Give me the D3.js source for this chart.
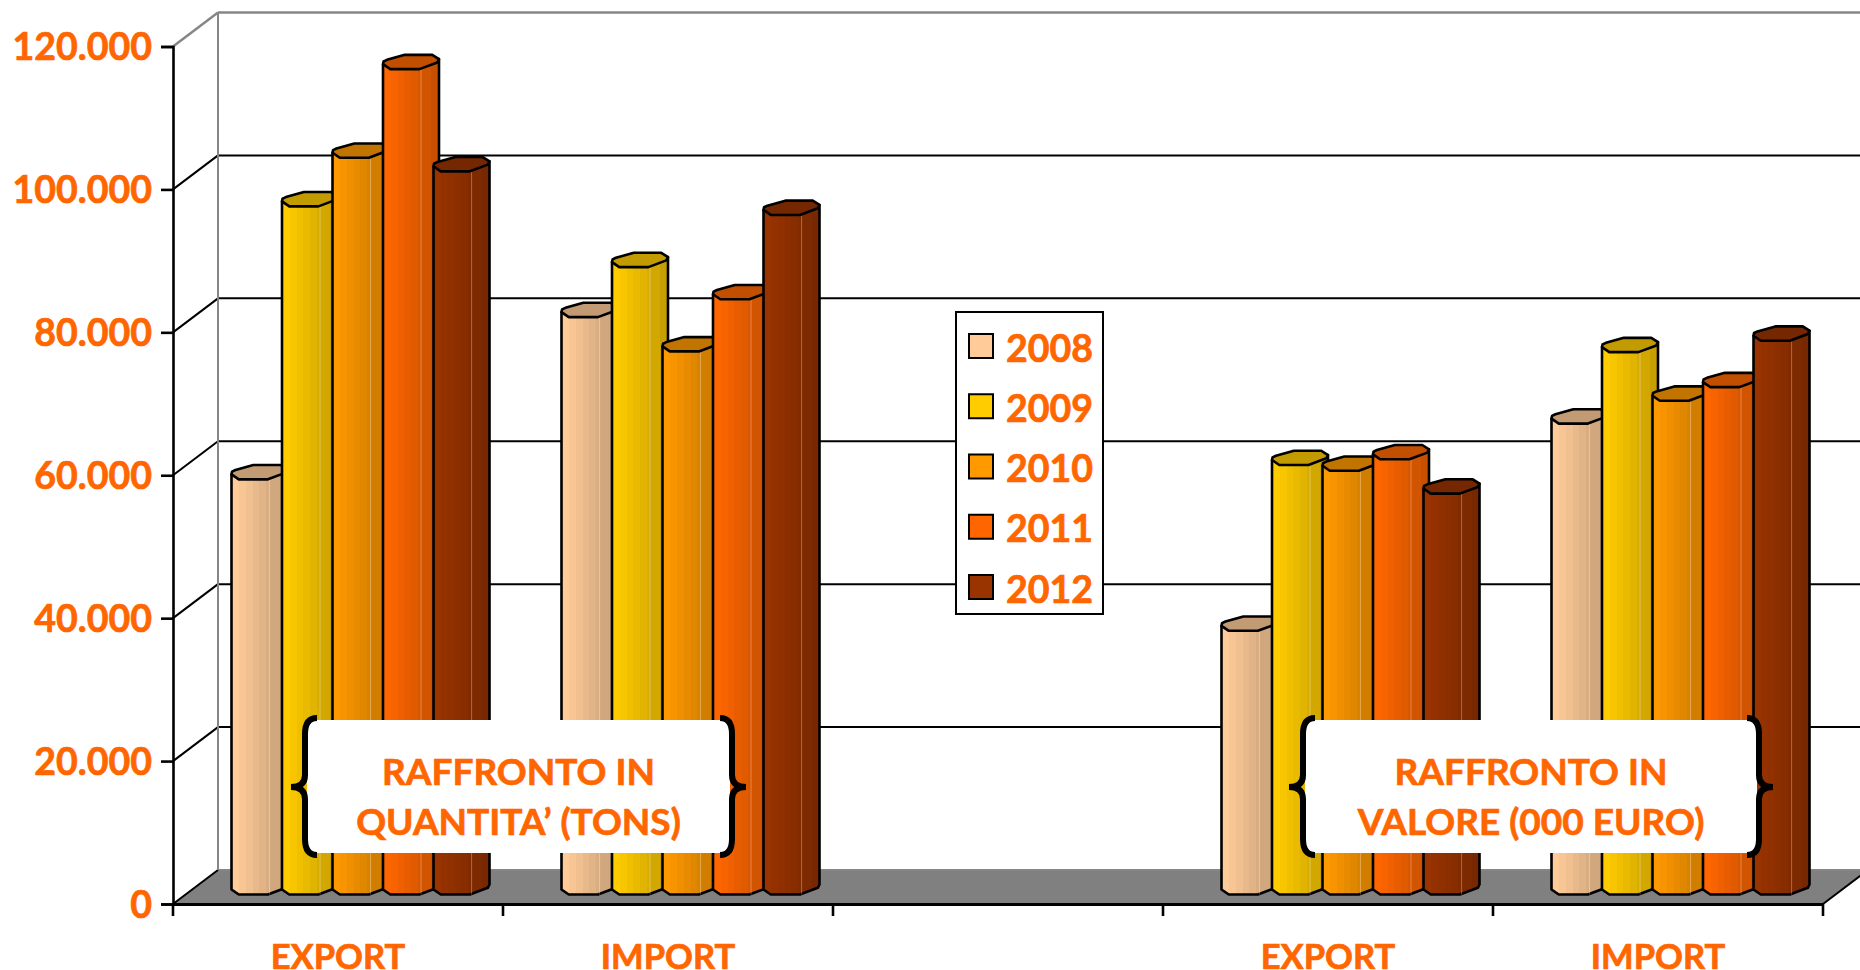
<!DOCTYPE html>
<html><head><meta charset="utf-8">
<script src="https://cdn.jsdelivr.net/npm/d3@7"></script>
<style>html,body{margin:0;padding:0;background:#fff;overflow:hidden}svg{display:block}text{font-family:Lato,"Open Sans",sans-serif;font-weight:700;fill:#FF6600;stroke:#FF6600;stroke-width:.7px}</style>
</head><body><svg id="c" width="1860" height="970"></svg>
<script>
const categories = [0,1,2,3,4];
const categoryLabels = ["EXPORT","IMPORT","","EXPORT","IMPORT"];
const years = ["2008","2009","2010","2011","2012"];
const colors = ["#FFCC99","#FFCC00","#FF9900","#FF6600","#993300"];
const values2008 = [58100,80800,null,36900,65900];
const values2009 = [96300,87800,null,60100,75900];
const values2010 = [103100,76000,null,59300,69100];
const values2011 = [115500,83300,null,60900,71000];
const values2012 = [101200,95100,null,56100,77500];
const seriesValues = [values2008,values2009,values2010,values2011,values2012];
const yTicks = [0,20000,40000,60000,80000,100000,120000];
const tickFormat = d => d===0 ? "0" : d3.format(",")(d).replace(/,/g,".");

const svg = d3.select("#c");
const dx = 45, dy = -34;                 // depth of the 3-D box
const x = d3.scaleBand().domain(categories).range([173,1823]);
const y = d3.scaleLinear().domain([0,120000]).range([904,46.5]);
const x1 = d3.scaleBand().domain(years).range([58.5,58.5+5*50.5]);
const barW = 56, lift = 9.5;

// gradients
const defs = svg.append("defs");
const bandFr = [0,.14,.26,.38,.5,.62,.68,.86,1];
const bandF  = [1,.97,.94,.91,.88,.85,.82,.78];
years.forEach((yr,i)=>{
  const g = defs.append("linearGradient").attr("id","g"+yr);
  bandF.forEach((f,k)=>{
    const c = d3.rgb(colors[i]);
    const col = d3.rgb(c.r*f,c.g*f,c.b*f).formatHex();
    g.append("stop").attr("offset",bandFr[k]).attr("stop-color",col);
    g.append("stop").attr("offset",bandFr[k+1]).attr("stop-color",col);
  });
});

// floor
const fp = [[173,y(0)],[173+dx,y(0)+dy],[1823+dx,y(0)+dy],[1823,y(0)]];
svg.append("polygon").attr("points",fp.join(" ")).attr("fill","#808080");
// walls and gridlines
const grid = svg.append("g");
yTicks.forEach(t=>{
  const yy = y(t), isTop = t===120000, bot = t===0;
  const col = isTop ? "#868686" : "#000";
  grid.append("line").attr("x1",173+dx).attr("x2",1870).attr("y1",yy+dy).attr("y2",yy+dy)
    .attr("stroke",bot?"#868686":col).attr("stroke-width",isTop?2.5:2);
  grid.append("line").attr("x1",173).attr("x2",173+dx).attr("y1",yy).attr("y2",yy+dy)
    .attr("stroke",col).attr("stroke-width",isTop?2.5:2);
});
grid.append("line").attr("x1",173+dx).attr("x2",173+dx).attr("y1",y(120000)+dy).attr("y2",y(0)+dy)
  .attr("stroke","#868686").attr("stroke-width",2);
grid.append("line").attr("x1",1823).attr("x2",1823+dx).attr("y1",y(0)).attr("y2",y(0)+dy)
  .attr("stroke","#000").attr("stroke-width",2);

// bars
const capShape = [[0,-5],[.13,0],[.65,0],[.97,-6.7],[1,-10],[.88,-14.3],[.39,-14.3],[.07,-9.3],[.01,-7.7]];
const baseShape = [[1,-10],[.97,-6.7],[.65,0],[.13,0],[0,-5]];
const barsG = svg.append("g");
categories.forEach((c,ci)=>{
  years.forEach((yr,si)=>{
    const v = seriesValues[si][ci];
    if(v==null) return;
    const x0 = x(c)+x1(yr), yt = y(v)-lift, yb = y(0)-lift;
    const g = barsG.append("g");
    const body = [[x0,yt-5],[x0+barW,yt-10]]
      .concat(baseShape.map(p=>[x0+p[0]*barW,yb+p[1]]));
    g.append("polygon").attr("points",body.join(" ")).attr("fill","url(#g"+yr+")")
      .attr("stroke","#000").attr("stroke-width",2.6).attr("stroke-linejoin","round");
    g.append("line").attr("x1",x0+.68*barW).attr("x2",x0+.68*barW).attr("y1",yt).attr("y2",yb)
      .attr("stroke","#fff").attr("stroke-opacity",.3).attr("stroke-width",1);
    const cc = d3.rgb(colors[si]);
    g.append("polygon").attr("points",capShape.map(p=>[x0+p[0]*barW,yt+p[1]]).join(" "))
      .attr("fill",d3.rgb(cc.r*.76,cc.g*.76,cc.b*.76).formatHex())
      .attr("stroke","#000").attr("stroke-width",2.6).attr("stroke-linejoin","round");
  });
});

// axes
const yAxis = d3.axisLeft(y).tickValues(yTicks).tickFormat(tickFormat).tickSize(12).tickPadding(9);
const ya = svg.append("g").attr("transform","translate(173,0)").call(yAxis);
ya.select(".domain").attr("stroke","#000").attr("stroke-width",2.6);
ya.selectAll("line").attr("stroke","#000").attr("stroke-width",2.6);
ya.selectAll("text").style("font-size","37.5px").attr("dy","0.35em");

const xAxis = d3.axisBottom(x).tickFormat(i=>categoryLabels[i]).tickSize(0).tickPadding(41);
const xa = svg.append("g").attr("transform","translate(0,904)").call(xAxis);
xa.select(".domain").attr("stroke","#000").attr("stroke-width",3);
xa.selectAll("text").style("font-size","34.5px").attr("dy","0.71em");
categories.concat([5]).forEach(i=>{
  const px = i<5 ? x(i) : x(4)+x.bandwidth();
  xa.append("line").attr("x1",px).attr("x2",px).attr("y1",0).attr("y2",12)
    .attr("stroke","#000").attr("stroke-width",2.6);
});

// legend
const lg = svg.append("g");
lg.append("rect").attr("x",956).attr("y",312).attr("width",147).attr("height",302)
  .attr("fill","#fff").attr("stroke","#000").attr("stroke-width",2);
const ly = d3.scalePoint().domain(years).range([346,587]);
years.forEach((yr,i)=>{
  lg.append("rect").attr("x",969).attr("y",ly(yr)-12).attr("width",24).attr("height",24)
    .attr("fill",colors[i]).attr("stroke","#000").attr("stroke-width",2);
  lg.append("text").attr("x",1006).attr("y",ly(yr)+2).attr("dy","0.36em")
    .style("font-size","37.5px").text(yr);
});

// annotation boxes
const notes = [
 {l:307,r:730,t:["RAFFRONTO IN","QUANTITA\u2019 (TONS)"]},
 {l:1305,r:1757,t:["RAFFRONTO IN","VALORE (000 EURO)"]}
];
const boxTop=720, boxBottom=853, boxMid=787;
notes.forEach(n=>{
  const g = svg.append("g");
  g.append("rect").attr("x",n.l).attr("y",boxTop).attr("width",n.r-n.l).attr("height",boxBottom-boxTop)
    .attr("rx",8).attr("fill","#fff");
  [[n.l-2,-1],[n.r+2,1]].forEach(([sx,dir])=>{
    const e = sx-dir*12, t = sx+dir*14;
    g.append("path").attr("d",`M${e},${boxTop-2} Q${sx},${boxTop-2} ${sx},${boxTop+14} L${sx},${boxMid-12} Q${sx},${boxMid} ${t},${boxMid} Q${sx},${boxMid} ${sx},${boxMid+12} L${sx},${boxBottom-14} Q${sx},${boxBottom+2} ${e},${boxBottom+2}`)
      .attr("fill","none").attr("stroke","#000").attr("stroke-width",6);
  });
  n.t.forEach((s,i)=>{
    g.append("text").attr("x",(n.l+n.r)/2).attr("y",772+i*50).attr("dy","0.36em")
      .attr("text-anchor","middle").style("font-size","37px").text(s);
  });
});
</script></body></html>
